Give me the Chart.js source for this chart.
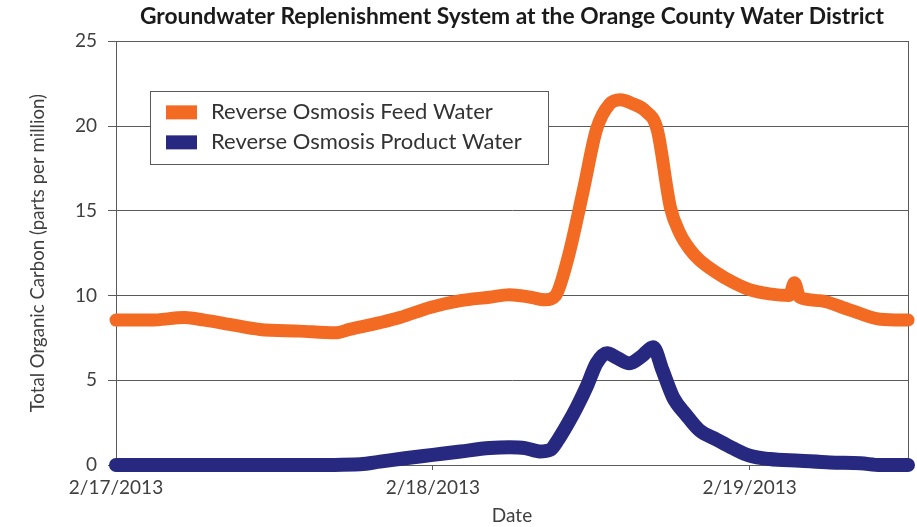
<!DOCTYPE html>
<html>
<head>
<meta charset="utf-8">
<script src="https://cdn.jsdelivr.net/npm/chart.js@4.4.1/dist/chart.umd.min.js"></script>
<style>
  html, body { margin: 0; padding: 0; background: #fff; }
  #wrap { width: 917px; height: 527px; }
</style>
</head>
<body>
<div id="wrap"><canvas id="tocChart"></canvas></div>
<script>
// hours since 2/17/2013 00:00 and TOC (ppm)
const feedHours = [0, 2.6, 5.2, 6.7, 8.6, 10.9, 13.9, 16.6, 17.7, 20.0, 21.5, 23.8, 26.1, 28.3, 29.8, 31.4, 32.5, 33.3,
    34.2, 35.4, 36.4, 37.4, 38.2, 39.2, 40.1, 41.0, 42.0, 42.7, 43.5, 44.2, 45.4, 46.7, 48.0, 49.5, 51.0, 51.4, 51.8,
    53.3, 55.6, 57.9, 60];
const feedToc = [8.55, 8.55, 8.7, 8.55, 8.3, 8.0, 7.9, 7.8, 8.0, 8.4, 8.7, 9.3, 9.7, 9.9, 10.05, 9.9, 9.75, 10.0,
    12.1, 16.2, 19.8, 21.3, 21.55, 21.3, 20.9, 19.8, 15.2, 13.7, 12.7, 12.1, 11.4, 10.8, 10.35, 10.1, 10.0, 10.75, 9.9,
    9.7, 9.15, 8.6, 8.55];

const productHours = [0, 6.4, 13.9, 18.5, 20.0, 21.9, 24.0, 26.1, 28.3, 29.8, 31.0, 32.1, 32.9, 33.5, 34.2, 34.9, 35.7,
    36.4, 37.2, 38.0, 38.9, 39.8, 40.7, 41.4, 42.2, 43.2, 44.2, 45.5, 46.7, 48.0, 49.5, 51.8, 54.1, 56.4, 57.9, 60];
const productToc = [0, 0, 0, 0.05, 0.2, 0.4, 0.6, 0.8, 1.0, 1.05, 1.0, 0.8, 0.9, 1.5, 2.4, 3.4, 4.7,
    6.0, 6.6, 6.3, 6.0, 6.4, 6.95, 5.6, 4.0, 2.95, 2.05, 1.5, 1.0, 0.55, 0.35, 0.25, 0.15, 0.1, 0, 0];

const dateTicks = { 0: '2/17/2013', 24: '2/18/2013', 48: '2/19/2013' };
const seriesLabels = ['Reverse Osmosis Feed Water', 'Reverse Osmosis Product Water'];
const seriesColors = ['#F36A22', '#26297F'];

const FONT = 'Lato, "Open Sans", sans-serif';
const TEXT = '#3f3f3f';
const LINE = '#5a5a5a';

const toPoints = (xs, ys) => xs.map((x, i) => ({ x: x, y: ys[i] }));

// frame on top/right of the plot, under the data
const framePlugin = {
    id: 'frame',
    beforeDatasetsDraw(chart) {
        const { ctx, chartArea: a } = chart;
        ctx.save();
        ctx.strokeStyle = LINE;
        ctx.lineWidth = 1;
        ctx.strokeRect(Math.round(a.left) + 0.5, Math.round(a.top) + 0.5,
            Math.round(a.right - a.left), Math.round(a.bottom - a.top));
        ctx.restore();
    }
};

// boxed legend sitting inside the plot area
const boxLegendPlugin = {
    id: 'boxLegend',
    afterDatasetsDraw(chart) {
        const { ctx, chartArea: a } = chart;
        const x = a.left + 34, y = a.top + 50, w = 398, h = 73;
        ctx.save();
        ctx.fillStyle = '#fff';
        ctx.fillRect(x, y, w, h);
        ctx.strokeStyle = LINE;
        ctx.lineWidth = 1;
        ctx.strokeRect(Math.round(x) + 0.5, Math.round(y) + 0.5, w, h);
        ctx.font = '22px ' + FONT;
        ctx.textBaseline = 'middle';
        chart.data.datasets.forEach((ds, i) => {
            const cy = y + 21 + i * 30;
            ctx.fillStyle = ds.borderColor;
            ctx.fillRect(x + 16, cy - 7, 31, 14);
            ctx.fillStyle = '#333';
            ctx.fillText(ds.label, x + 61, cy);
        });
        ctx.restore();
    }
};

new Chart(document.getElementById('tocChart'), {
    type: 'line',
    data: {
        datasets: [
            {
                label: seriesLabels[0],
                data: toPoints(feedHours, feedToc),
                borderColor: seriesColors[0],
                backgroundColor: seriesColors[0],
                borderWidth: 13,
                borderCapStyle: 'round',
                borderJoinStyle: 'round',
                cubicInterpolationMode: 'monotone',
                pointRadius: 0,
                clip: false
            },
            {
                label: seriesLabels[1],
                data: toPoints(productHours, productToc),
                borderColor: seriesColors[1],
                backgroundColor: seriesColors[1],
                borderWidth: 14,
                borderCapStyle: 'round',
                borderJoinStyle: 'round',
                cubicInterpolationMode: 'monotone',
                pointRadius: 0,
                clip: false
            }
        ]
    },
    options: {
        responsive: true,
        maintainAspectRatio: false,
        animation: false,
        layout: { padding: { left: 0, right: 9, top: 0, bottom: 0 } },
        plugins: {
            legend: { display: false },
            tooltip: { enabled: false },
            title: {
                display: true,
                fullSize: false,
                text: 'Groundwater Replenishment System at the Orange County Water District',
                color: '#1a1a1a',
                font: { family: FONT, size: 22.8, weight: 'bold' },
                padding: { top: 3, bottom: 11 }
            }
        },
        scales: {
            x: {
                type: 'linear',
                min: 0,
                max: 60,
                afterFit: (s) => { s.height = 62; },
                afterBuildTicks: (s) => { s.ticks = Object.keys(dateTicks).map(v => ({ value: +v })); },
                border: { display: true, color: LINE, width: 1 },
                grid: { drawOnChartArea: false, drawTicks: true, tickLength: 5, color: LINE },
                ticks: {
                    color: TEXT,
                    font: { family: FONT, size: 19 },
                    padding: 6,
                    maxRotation: 0,
                    callback: (v) => dateTicks[v] || ''
                },
                title: {
                    display: true,
                    text: 'Date',
                    color: TEXT,
                    font: { family: FONT, size: 19 },
                    padding: { top: 0, bottom: 0 }
                }
            },
            y: {
                min: 0,
                max: 25,
                afterFit: (s) => { s.width = 116; },
                border: { display: true, color: LINE, width: 1 },
                grid: { color: LINE, lineWidth: 1, tickLength: 8 },
                ticks: {
                    stepSize: 5,
                    color: TEXT,
                    font: { family: FONT, size: 19 },
                    padding: 11
                },
                title: {
                    display: true,
                    text: 'Total Organic Carbon (parts per million)',
                    color: TEXT,
                    font: { family: FONT, size: 18.6 },
                    padding: { top: 27, bottom: 0 }
                }
            }
        }
    },
    plugins: [framePlugin, boxLegendPlugin]
});
</script>
</body>
</html>
